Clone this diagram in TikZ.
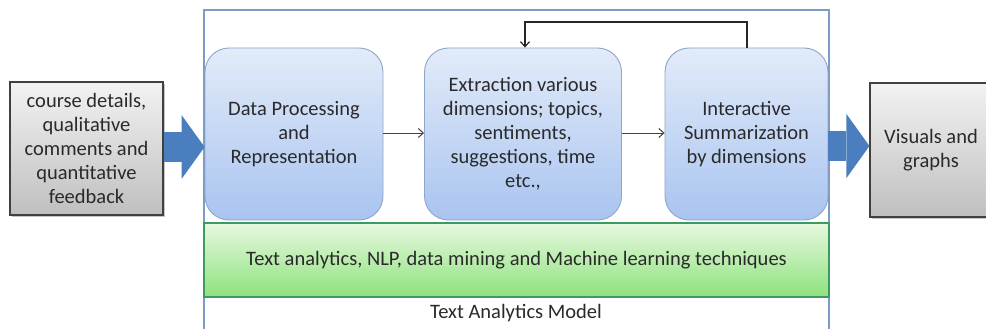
\documentclass[tikz,border=0pt]{standalone}
\usepackage{fontspec}
\setmainfont{Carlito}
\usetikzlibrary{arrows.meta,shadows,calc}

\definecolor{frameblue}{HTML}{7A9CC6}
\definecolor{boxtop}{HTML}{E2EBF9}
\definecolor{boxbot}{HTML}{A9C4F0}
\definecolor{boxedge}{HTML}{8FA6C8}
\definecolor{greentop}{HTML}{E6F8DE}
\definecolor{greenbot}{HTML}{8EE27E}
\definecolor{greenedge}{HTML}{3E9A62}
\definecolor{fatblue}{HTML}{4A7EBE}
\definecolor{txt}{HTML}{2A2A2A}

\tikzset{
  x=1pt, y=-1pt,
  txtfont/.style={font=\fontsize{20.5}{24}\selectfont, text=txt, align=center},
  graybox/.style={txtfont, draw=black!75, line width=1.1pt,
    top color=black!5, bottom color=black!25,
    drop shadow={shadow xshift=2pt, shadow yshift=-2pt, fill=black!45},
    inner sep=0pt},
  stepbox/.style={txtfont, draw=boxedge, line width=0.9pt, rounded corners=24pt,
    top color=boxtop, bottom color=boxbot, inner sep=0pt},
  band/.style={txtfont, draw=greenedge, line width=1.4pt,
    top color=greentop, bottom color=greenbot, inner sep=0pt},
  frame/.style={draw=frameblue, line width=1.3pt, inner sep=0pt},
  thin/.style={draw=black!75, line width=1pt, -{Straight Barb[length=5pt,width=9pt]}},
  fat/.style={draw=fatblue, line width=30pt,
    -{Triangle[width=64pt,length=23pt,line width=0pt]}}
}

\begin{document}
\begin{tikzpicture}
\useasboundingbox (0,0) rectangle (986,329);
\clip (0,0) rectangle (986,329);
\fill[white] (0,0) rectangle (986,329);

% enclosing model frame (runs past the lower edge)
\node[frame, minimum width=625pt, minimum height=340pt] (frame) at (516.5,180) {};

% processing steps
\node[stepbox, minimum width=178pt, minimum height=172pt] (dp) at (294,134)
  {Data Processing\\and\\Representation};
\node[stepbox, minimum width=197pt, minimum height=172pt] (ext) at (523,134)
  {Extraction various\\dimensions; topics,\\sentiments,\\suggestions, time\\etc.,};
\node[stepbox, minimum width=163pt, minimum height=172pt] (sum) at (746.5,134)
  {Interactive\\Summarization\\by dimensions};

% techniques band and caption
\node[band, minimum width=625pt, minimum height=74pt] (tech) at (516.5,260)
  {Text analytics, NLP, data mining and Machine learning techniques};
\node[txtfont] (model) at (516,313) {Text Analytics Model};

% input and output boxes
\node[graybox, minimum width=153pt, minimum height=133pt] (src) at (86.5,148.5)
  {course details,\\qualitative\\comments and\\quantitative\\feedback};
\node[graybox, minimum width=125pt, minimum height=134pt] (out) at (932.5,150) {};
\node[txtfont, anchor=center] (outtxt) at (931,150) {Visuals and\\graphs};

% flow between steps
\draw[thin] (dp.east |- 0,133) -- (ext.west |- 0,133);
\draw[thin] (ext.east |- 0,133) -- (sum.west |- 0,133);
\coordinate (up1) at (747,22);
\coordinate (up2) at (525,22);
\draw[draw=black!85, line width=1.2pt, -{Straight Barb[length=5pt,width=9pt]}]
  (sum.north -| up1) -- (up1) -- (up2) -- (ext.north -| up2);

% block arrows in and out of the model
\draw[fat] (src.east |- 0,147) -- (dp.west |- 0,147);
\draw[fat] (sum.east |- 0,146) -- (out.west |- 0,146);
\end{tikzpicture}
\end{document}
